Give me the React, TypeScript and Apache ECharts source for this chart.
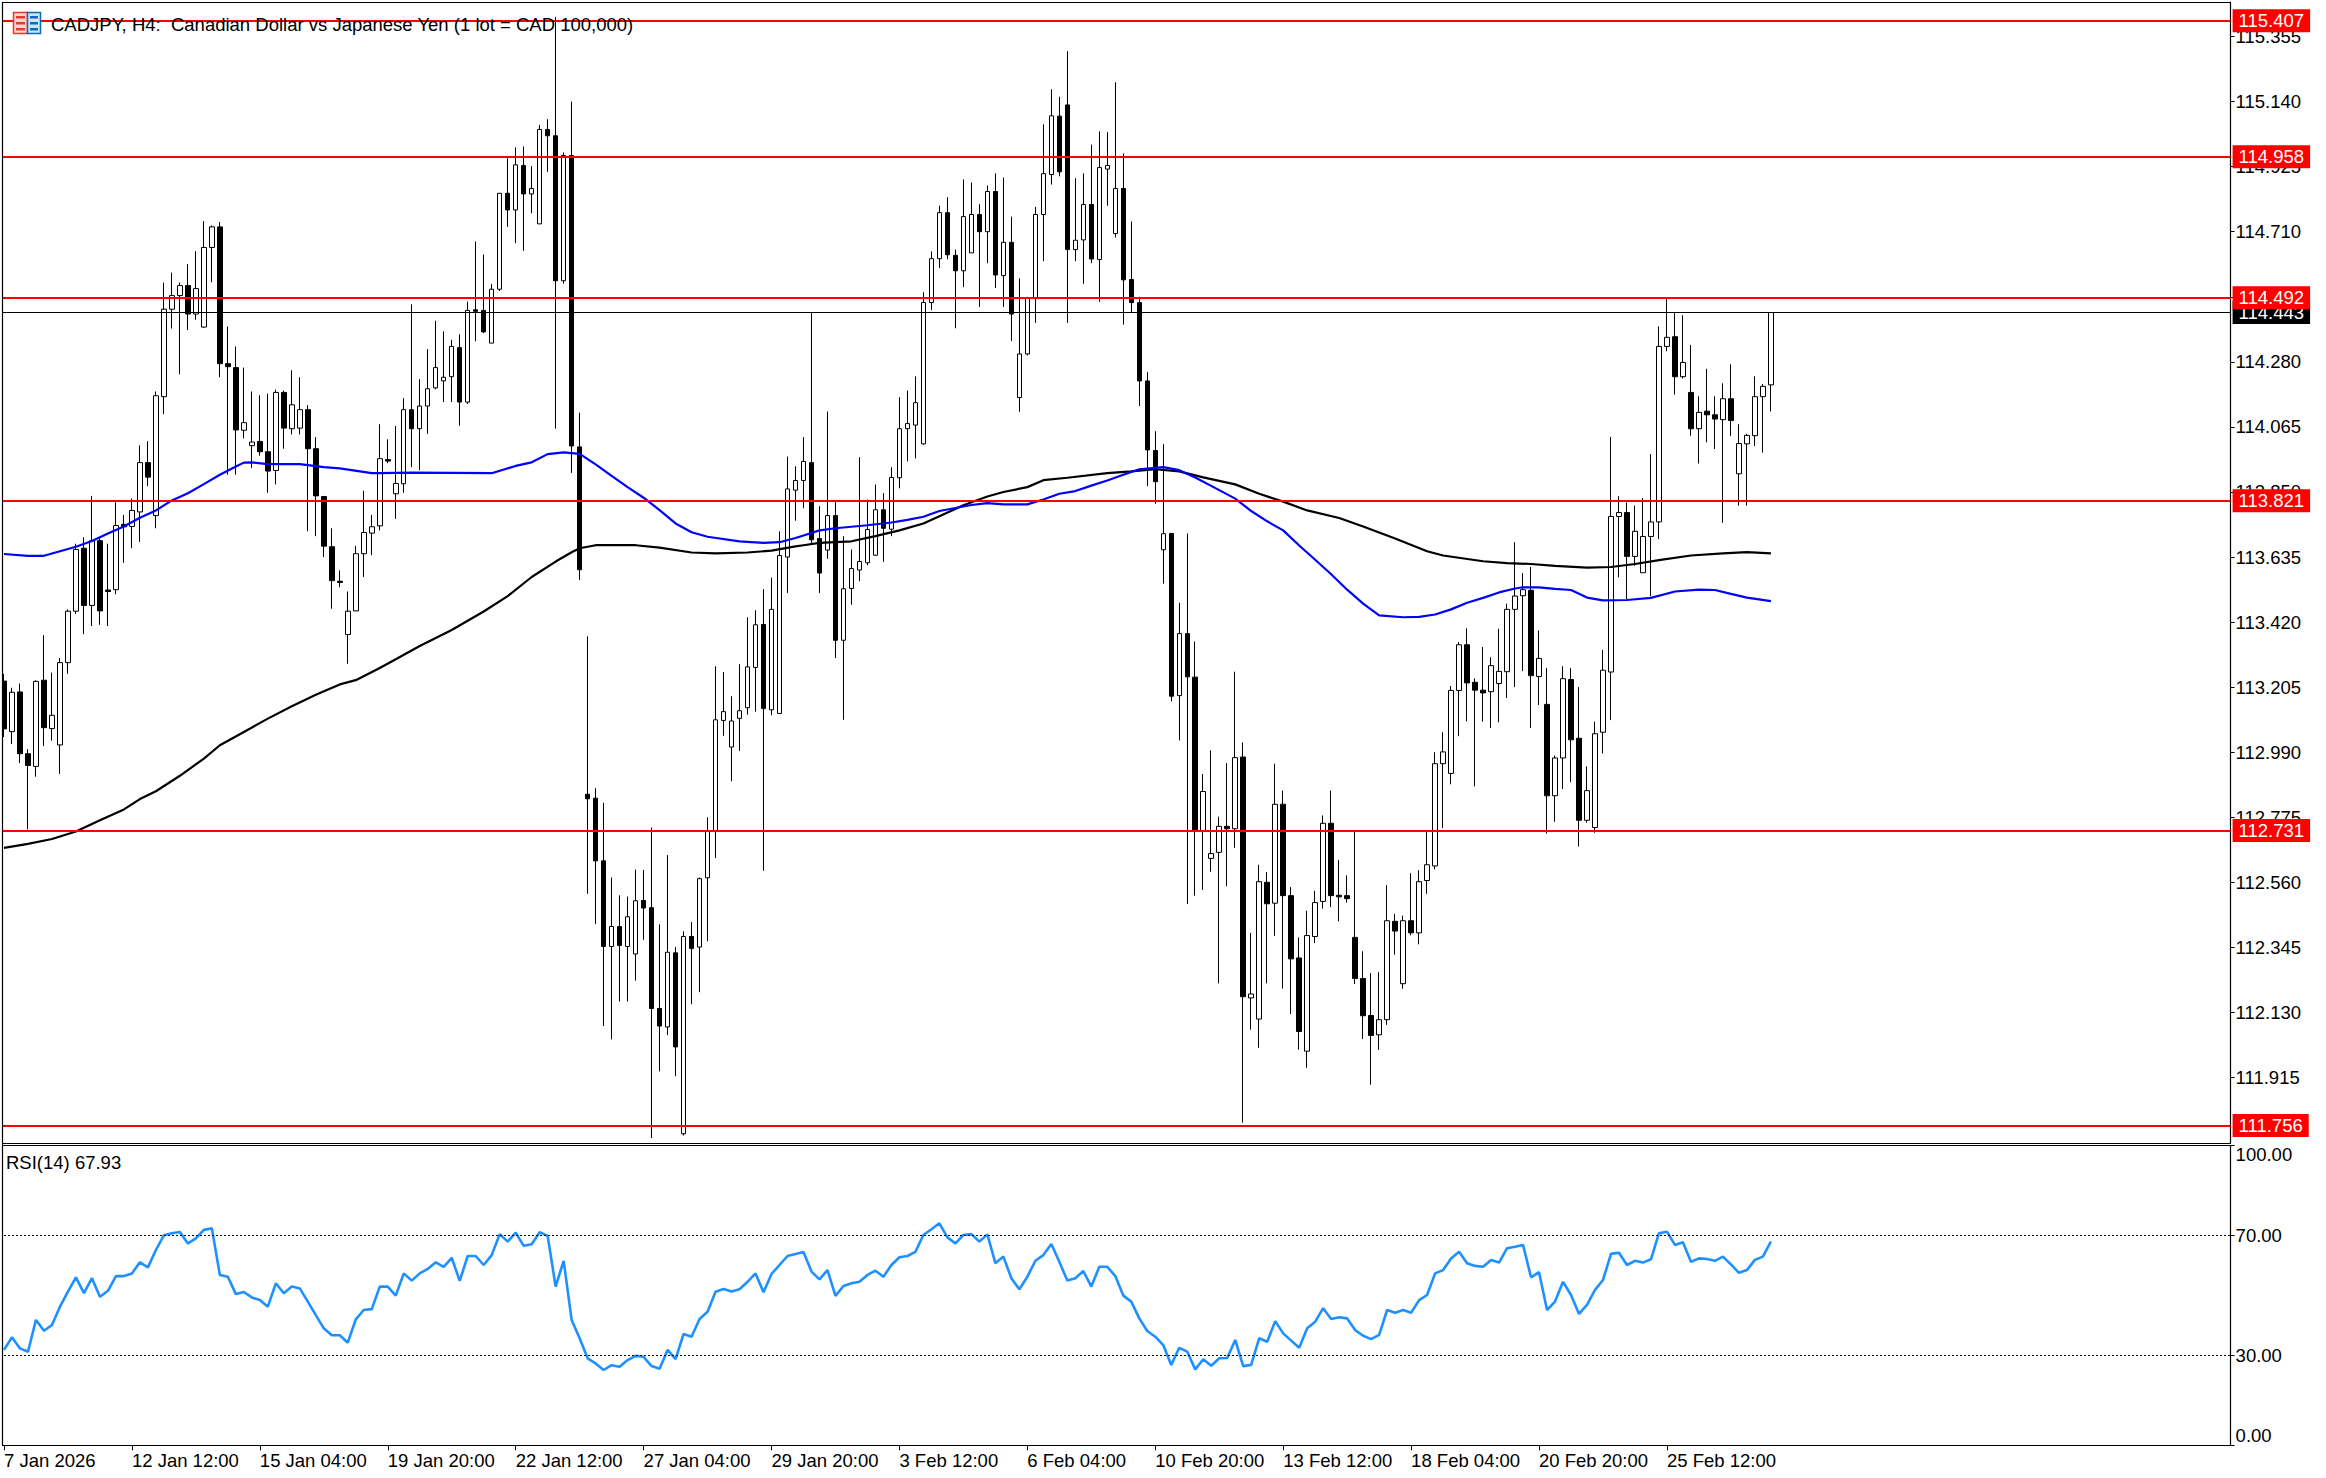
import React, { useEffect, useRef } from "react";
import * as echarts from "echarts";

const tickLabels = ["7 Jan 2026","12 Jan 12:00","15 Jan 04:00","19 Jan 20:00","22 Jan 12:00","27 Jan 04:00","29 Jan 20:00","3 Feb 12:00","6 Feb 04:00","10 Feb 20:00","13 Feb 12:00","18 Feb 04:00","20 Feb 20:00","25 Feb 12:00"];
const priceTicks = [115.355,115.14,114.925,114.71,114.495,114.28,114.065,113.85,113.635,113.42,113.205,112.99,112.775,112.56,112.345,112.13,111.915];
const redLevels = [115.407,114.958,114.492,113.821,112.731,111.756];
const lastPrice = 114.443;
const rsiTicks = [0,30,70,100];
const rsiLevels = [70,30];

const opens = [
113.225,113.058,113.189,112.985,112.943,113.228,113.068,113.014,113.286,113.456,
113.664,113.475,113.689,113.526,113.527,113.743,113.736,113.784,113.947,113.772,
114.165,114.454,114.499,114.532,114.438,114.395,114.658,114.726,114.274,114.261,
114.054,114.003,114.017,113.983,113.921,114.179,114.059,114.061,114.122,113.993,
113.835,113.669,113.555,113.379,113.457,113.646,113.714,113.738,113.957,113.844,
113.877,114.122,114.059,114.134,114.194,114.217,114.231,114.327,114.147,114.452,
114.450,114.342,114.520,114.837,114.782,114.929,114.835,114.736,115.048,115.027,
114.548,114.962,113.999,112.851,112.838,112.631,112.348,112.414,112.348,112.323,
112.500,112.476,112.143,112.082,112.327,111.729,112.381,112.346,112.575,112.728,
113.095,113.007,113.102,113.137,113.270,113.412,113.130,113.118,113.635,113.856,
113.888,113.947,113.696,113.658,113.772,113.360,113.531,113.592,113.616,113.641,
113.791,113.727,113.897,114.059,114.071,114.009,114.476,114.621,114.773,114.632,
114.581,114.640,114.767,114.710,114.843,114.565,114.675,114.162,114.306,114.491,
114.767,114.899,115.092,115.129,114.651,114.683,114.800,114.618,114.917,114.704,
114.853,114.552,114.476,114.217,113.987,113.659,113.713,113.177,113.382,113.238,
112.728,112.639,112.659,112.745,112.737,112.974,112.178,112.108,112.560,112.491,
112.818,112.516,112.310,112.002,112.381,112.497,112.755,112.517,112.516,112.378,
112.242,112.120,112.056,112.106,112.431,112.225,112.433,112.393,112.566,112.614,
112.952,112.920,113.194,113.345,113.221,113.195,113.190,113.217,113.256,113.462,
113.507,113.525,113.240,113.148,112.846,112.971,113.230,113.036,112.765,112.741,
113.056,113.255,113.769,113.782,113.637,113.583,113.703,113.751,114.331,114.363,
114.231,114.179,114.059,114.117,114.105,114.089,114.158,113.910,114.009,114.036,
114.165,114.204];
const closes = [
113.067,113.188,112.985,112.946,113.224,113.071,113.112,113.286,113.456,113.660,
113.475,113.689,113.457,113.521,113.739,113.735,113.789,113.947,113.899,114.168,
114.454,114.499,114.532,114.438,114.522,114.658,114.726,114.274,114.264,114.055,
114.079,114.015,113.983,113.919,114.179,114.061,114.138,114.122,113.993,113.837,
113.671,113.557,113.551,113.456,113.646,113.716,113.735,113.960,113.952,113.878,
114.122,114.059,114.134,114.191,114.261,114.229,114.331,114.147,114.450,114.447,
114.379,114.520,114.837,114.782,114.931,114.835,114.853,115.048,115.027,114.548,
114.962,114.002,113.593,112.836,112.631,112.348,112.414,112.351,112.446,112.499,
112.475,112.143,112.085,112.329,112.016,112.381,112.341,112.572,112.728,113.097,
113.124,113.093,113.127,113.272,113.411,113.134,113.462,113.640,113.860,113.888,
113.951,113.692,113.582,113.772,113.360,113.530,113.597,113.620,113.726,113.791,
113.730,113.898,114.059,114.076,114.145,114.476,114.621,114.773,114.634,114.581,
114.760,114.767,114.710,114.843,114.567,114.675,114.438,114.306,114.491,114.767,
114.902,115.093,114.908,114.651,114.682,114.800,114.620,114.922,114.929,114.853,
114.551,114.476,114.217,113.989,113.884,113.712,113.175,113.382,113.239,112.728,
112.860,112.655,112.745,112.737,112.972,112.182,112.191,112.562,112.489,112.818,
112.516,112.307,112.067,112.384,112.493,112.755,112.516,112.512,112.506,112.242,
112.119,112.054,112.106,112.433,112.399,112.433,112.393,112.562,112.618,112.952,
112.991,113.194,113.345,113.219,113.195,113.186,113.276,113.257,113.462,113.506,
113.527,113.243,113.300,112.846,112.971,113.233,113.031,112.765,112.863,113.051,
113.261,113.769,113.782,113.637,113.720,113.703,113.751,114.331,114.361,114.231,
114.278,114.059,114.113,114.105,114.091,114.158,114.086,114.010,114.037,114.165,
114.199,114.443];
const lows = [
113.040,113.017,112.954,112.735,112.909,113.010,113.028,112.918,113.249,113.447,
113.380,113.407,113.411,113.407,113.512,113.616,113.664,113.685,113.869,113.730,
114.107,114.390,114.239,114.385,114.419,114.392,114.543,114.229,113.907,113.907,
114.027,113.929,113.970,113.847,113.875,113.993,114.040,114.040,113.720,113.704,
113.635,113.464,113.535,113.282,113.456,113.569,113.641,113.723,113.945,113.761,
113.847,113.932,113.922,114.042,114.189,114.147,114.147,114.069,114.141,114.348,
114.375,114.342,114.514,114.726,114.672,114.647,114.771,114.736,114.908,114.059,
114.538,113.913,113.559,112.522,112.422,112.085,112.041,112.166,112.166,112.235,
112.370,111.715,111.935,112.055,111.919,111.723,112.157,112.197,112.365,112.640,
113.044,112.894,112.994,113.114,113.124,112.598,113.112,113.117,113.516,113.755,
113.796,113.679,113.516,113.629,113.301,113.097,113.477,113.555,113.608,113.639,
113.619,113.704,113.862,113.951,113.961,114.006,114.451,114.590,114.619,114.391,
114.527,114.640,114.461,114.606,114.524,114.461,114.349,114.115,114.301,114.409,
114.613,114.866,114.893,114.409,114.613,114.538,114.606,114.478,114.796,114.691,
114.403,114.444,114.134,113.869,113.811,113.547,113.158,113.029,112.488,112.516,
112.535,112.595,112.226,112.547,112.674,111.766,112.073,112.013,112.226,112.383,
112.209,112.125,112.007,111.947,112.359,112.473,112.478,112.431,112.493,112.224,
112.042,111.891,112.006,112.089,112.321,112.208,112.385,112.355,112.522,112.603,
112.739,112.884,113.043,113.092,112.877,113.091,113.070,113.089,113.169,113.205,
113.258,113.070,113.146,112.721,112.760,112.868,112.891,112.678,112.757,112.724,
112.986,113.096,113.568,113.496,113.606,113.583,113.505,113.694,114.315,114.172,
114.225,114.036,113.944,114.014,113.992,113.748,114.035,113.805,113.805,114.002,
113.980,114.116];
const highs = [
113.249,113.203,113.217,113.000,113.228,113.377,113.253,113.301,113.462,113.679,
113.700,113.837,113.698,113.679,113.816,113.774,113.828,114.004,114.018,114.182,
114.542,114.575,114.542,114.603,114.646,114.745,114.731,114.742,114.397,114.331,
114.261,114.182,114.170,114.175,114.188,114.185,114.252,114.229,114.137,114.031,
113.837,113.730,113.591,113.521,113.672,113.854,113.774,114.074,114.024,114.068,
114.160,114.470,114.223,114.322,114.416,114.381,114.353,114.371,114.479,114.678,
114.635,114.537,114.837,114.953,114.989,114.992,114.927,115.063,115.082,115.420,
114.972,115.140,114.112,113.373,112.871,112.823,112.576,112.517,112.513,112.602,
112.601,112.741,112.421,112.650,112.346,112.398,112.429,112.576,112.775,113.274,
113.255,113.175,113.281,113.436,113.459,113.529,113.567,113.720,113.967,113.935,
114.031,114.443,113.803,114.116,113.818,113.704,113.660,113.965,113.825,113.875,
113.846,113.932,114.163,114.185,114.232,114.510,114.645,114.796,114.824,114.651,
114.883,114.873,114.801,114.863,114.903,114.889,114.760,114.556,114.495,114.792,
115.065,115.181,115.156,115.307,114.887,114.903,114.998,115.042,115.039,115.204,
114.969,114.744,114.495,114.246,114.051,114.008,113.713,113.484,113.713,113.356,
112.918,112.996,112.777,112.954,113.256,113.022,112.393,112.618,112.594,112.952,
112.863,112.544,112.378,112.466,112.532,112.781,112.863,112.634,112.583,112.728,
112.332,112.260,112.263,112.551,112.456,112.450,112.590,112.600,112.728,112.990,
113.056,113.209,113.354,113.399,113.234,113.338,113.304,113.398,113.481,113.684,
113.582,113.602,113.392,113.268,112.979,113.274,113.268,113.205,112.943,113.091,
113.328,114.032,113.836,113.815,113.805,113.830,113.975,114.397,114.489,114.441,
114.434,114.336,114.166,114.257,114.166,114.209,114.272,114.074,114.042,114.232,
114.207,114.443];

const blueMa: [number, number][] = [
[0,113.645],[3,113.639],[5,113.639],[7,113.654],[9,113.669],[11,113.688],[13,113.713],[15,113.736],[17,113.765],[19,113.789],
[21,113.822],[23,113.846],[25,113.876],[27,113.907],[29,113.934],[30,113.947],[31,113.948],[33,113.942],[37,113.942],[40,113.932],
[42,113.928],[46,113.912],[47,113.912],[51,113.914],[56,113.913],[61,113.912],[64,113.936],[66,113.948],[68,113.975],[70,113.981],
[72,113.976],[74,113.941],[76,113.903],[78,113.866],[80,113.831],[82,113.790],[84,113.746],[86,113.717],[88,113.702],[92,113.687],
[95,113.682],[97,113.684],[99,113.698],[100,113.706],[102,113.723],[104,113.730],[108,113.740],[111,113.749],[113,113.758],[115,113.768],
[117,113.787],[119,113.797],[121,113.807],[123,113.813],[125,113.809],[128,113.809],[130,113.825],[132,113.844],[134,113.853],[136,113.871],
[138,113.888],[140,113.907],[142,113.925],[145,113.932],[147,113.922],[149,113.898],[152,113.856],[154,113.828],[156,113.787],[158,113.753],
[160,113.723],[162,113.673],[164,113.626],[166,113.578],[168,113.527],[170,113.481],[172,113.442],[175,113.436],[177,113.437],[179,113.445],
[181,113.462],[183,113.484],[185,113.500],[187,113.518],[189,113.531],[190,113.535],[192,113.535],[194,113.530],[196,113.526],[198,113.501],
[200,113.492],[203,113.493],[206,113.500],[209,113.521],[212,113.527],[214,113.526],[216,113.513],[218,113.501],[221,113.489]];
const blackMa: [number, number][] = [
[0,112.674],[3,112.687],[6,112.703],[9,112.728],[12,112.765],[15,112.801],[17,112.835],[19,112.861],[22,112.912],[25,112.969],
[27,113.013],[30,113.057],[33,113.101],[36,113.142],[39,113.180],[42,113.214],[44,113.228],[47,113.268],[49,113.297],[52,113.341],
[56,113.394],[60,113.455],[63,113.506],[66,113.569],[69,113.620],[71,113.651],[72,113.664],[74,113.674],[79,113.674],[82,113.666],
[86,113.650],[89,113.647],[93,113.650],[96,113.656],[99,113.670],[100,113.674],[102,113.682],[106,113.687],[109,113.704],[112,113.723],
[115,113.746],[117,113.770],[120,113.806],[123,113.835],[125,113.850],[128,113.866],[130,113.889],[133,113.897],[138,113.912],[141,113.918],
[144,113.925],[147,113.918],[150,113.898],[154,113.875],[157,113.844],[160,113.818],[163,113.789],[167,113.764],[170,113.736],[174,113.696],
[178,113.654],[180,113.640],[185,113.621],[188,113.615],[191,113.612],[194,113.606],[198,113.600],[201,113.602],[204,113.612],[207,113.625],
[211,113.640],[215,113.647],[218,113.651],[221,113.647]];

const rsiValues = [
31.8,36.0,32.3,31.2,41.8,38.2,40.1,46.2,51.2,56.0,
50.7,55.7,49.5,51.5,56.4,56.4,57.3,61.0,59.3,65.1,
70.0,70.7,71.1,67.3,69.0,71.8,72.3,56.8,56.2,50.4,
51.1,49.3,48.4,46.2,54.0,50.7,52.9,52.3,47.9,43.4,
39.0,36.7,36.7,34.2,42.0,45.1,45.4,52.9,52.9,49.9,
57.3,54.9,57.3,58.8,61.0,59.5,62.5,54.8,63.1,63.1,
60.1,63.4,70.4,67.9,70.9,66.5,67.0,71.0,69.8,52.9,
61.5,41.8,35.7,29.0,27.3,25.1,26.7,26.2,28.4,29.8,
29.5,26.4,25.5,31.8,28.7,37.1,36.2,42.1,44.5,51.2,
52.1,51.3,52.0,54.5,57.3,51.0,57.1,60.1,63.1,63.8,
64.4,57.9,55.3,58.4,49.8,53.1,54.0,54.5,56.8,58.2,
56.2,60.1,62.7,63.1,64.5,70.1,72.0,74.0,69.3,67.3,
70.1,70.4,67.9,70.3,60.7,62.9,55.7,52.0,56.2,61.5,
63.4,67.1,61.2,54.9,55.7,58.1,52.9,59.5,59.5,56.4,
49.9,47.9,42.3,38.1,36.2,33.4,26.8,32.5,31.2,25.3,
28.7,26.5,29.0,29.1,35.1,26.4,26.8,35.7,34.5,41.4,
37.3,34.9,32.5,39.0,41.2,45.7,42.1,42.7,42.3,38.4,
36.5,35.4,36.8,45.1,44.2,45.1,44.2,48.4,50.1,57.3,
58.4,62.3,64.5,60.7,59.8,59.5,61.8,60.9,65.7,66.2,
66.8,56.0,57.7,45.1,47.9,54.5,50.1,43.8,46.8,51.8,
55.1,63.8,64.2,60.1,61.5,60.9,62.0,70.7,71.2,66.8,
67.7,61.2,62.3,62.1,61.5,62.9,60.3,57.5,58.4,61.8,
62.9,67.93];

const SLOTS = 279;
const LAST_TICK = (tickLabels.length - 1) * 16;
const categories = Array.from({ length: SLOTS }, (_, i) =>
  i % 16 === 0 && i <= LAST_TICK ? tickLabels[i / 16] : ""
);
const FONT = "'Liberation Sans', Arial, sans-serif";
const SIZE = 18.5;
const showTick = (i: number) => i % 16 === 0 && i <= LAST_TICK;

function frameLine(x1: number, y1: number, x2: number, y2: number) {
  return { type: "line", z: 100, silent: true, shape: { x1, y1, x2, y2 }, style: { stroke: "#000", lineWidth: 1.2 } };
}
function box(x: number, y: number, width: number, height: number, fill: string, stroke?: string) {
  return { type: "rect", z: 101, silent: true, shape: { x, y, width, height }, style: { fill, stroke: stroke || "none", lineWidth: 1.5 } };
}

export default function App() {
  const ref = useRef<HTMLDivElement>(null);
  useEffect(() => {
    document.body.style.margin = "0";
    const chart = echarts.init(ref.current!, undefined, { renderer: "svg" });
    const candle = opens.map((o, i) => [o, closes[i], lows[i], highs[i]]);
    chart.setOption({
      animation: false,
      backgroundColor: "#ffffff",
      grid: [
        { left: -1.4, top: 2, width: 2232, height: 1141 },
        { left: -1.4, top: 1145.3, width: 2232, height: 300 },
      ],
      xAxis: [
        { type: "category", gridIndex: 0, data: categories, show: false, boundaryGap: true },
        {
          type: "category", gridIndex: 1, data: categories, boundaryGap: true,
          axisLine: { show: true, lineStyle: { color: "#000", width: 1.2 } },
          axisTick: { show: true, alignWithLabel: true, interval: showTick, length: 5, lineStyle: { color: "#000" } },
          axisLabel: { interval: showTick, align: "left", margin: 6, color: "#000", fontFamily: FONT, fontSize: SIZE, hideOverlap: false },
          splitLine: { show: false },
        },
      ],
      yAxis: [
        {
          type: "value", gridIndex: 0, position: "right", min: 111.6985, max: 115.4692, scale: true,
          axisLine: { show: true, lineStyle: { color: "#000", width: 1.2 } },
          axisTick: { show: true, length: 4, customValues: priceTicks, lineStyle: { color: "#000" } },
          axisLabel: { customValues: priceTicks, margin: 5, color: "#000", fontFamily: FONT, fontSize: SIZE, padding: [2, 0, 0, 0], formatter: (v: number) => v.toFixed(3) },
          splitLine: { show: false },
        },
        {
          type: "value", gridIndex: 1, position: "right", min: 0, max: 100,
          axisLine: { show: true, lineStyle: { color: "#000", width: 1.2 } },
          axisTick: { show: true, length: 4, customValues: rsiTicks, lineStyle: { color: "#000" } },
          axisLabel: {
            customValues: rsiTicks, margin: 5, color: "#000", fontFamily: FONT, fontSize: SIZE,
            verticalAlignMinLabel: "bottom", verticalAlignMaxLabel: "top",
            formatter: (v: number) => v.toFixed(2),
          },
          splitLine: { show: false },
        },
      ],
      series: [
        {
          type: "candlestick", name: "CADJPY", xAxisIndex: 0, yAxisIndex: 0, data: candle, barWidth: 5,
          itemStyle: { color: "#ffffff", color0: "#000000", borderColor: "#000000", borderColor0: "#000000", borderWidth: 1 },
        },
        {
          type: "line", name: "MA slow", xAxisIndex: 0, yAxisIndex: 0, data: blackMa, showSymbol: false, symbol: "none",
          lineStyle: { color: "#000000", width: 2.2 }, silent: true,
          markLine: {
            silent: true, symbol: "none", z: 4, animation: false, precision: 3,
            lineStyle: { color: "#000000", width: 1, type: "solid" },
            label: {
              show: true, position: "end", distance: 2, color: "#fff", backgroundColor: "#000",
              fontFamily: FONT, fontSize: SIZE, lineHeight: 18, padding: [3, 6, 2, 6],
              formatter: (p: any) => Number(p.value).toFixed(3),
            },
            data: [{ yAxis: lastPrice }],
          },
        },
        {
          type: "line", name: "MA fast", xAxisIndex: 0, yAxisIndex: 0, data: blueMa, showSymbol: false, symbol: "none",
          lineStyle: { color: "#0000ff", width: 2.2 }, silent: true,
          markLine: {
            silent: true, symbol: "none", z: 6, animation: false, precision: 3,
            lineStyle: { color: "#ff0000", width: 2, type: "solid" },
            label: {
              show: true, position: "end", distance: 2, color: "#fff", backgroundColor: "#ff0000",
              fontFamily: FONT, fontSize: SIZE, lineHeight: 18, padding: [3, 6, 2, 6],
              formatter: (p: any) => Number(p.value).toFixed(3),
            },
            data: redLevels.map((v) => ({ yAxis: v })),
          },
        },
        {
          type: "line", name: "RSI(14)", xAxisIndex: 1, yAxisIndex: 1, data: rsiValues, showSymbol: false, symbol: "none",
          lineStyle: { color: "#1e90ff", width: 2.6 }, silent: true,
          markLine: {
            silent: true, symbol: "none", animation: false,
            lineStyle: { color: "#000000", width: 1.2, type: [2, 2] },
            label: { show: false },
            data: rsiLevels.map((v) => ({ yAxis: v })),
          },
        },
      ],
      graphic: {
        elements: [
          { type: "rect", z: 99, silent: true, shape: { x: 0, y: 0, width: 2, height: 1478 }, style: { fill: "#fff" } },
          frameLine(2, 2.5, 2231, 2.5),
          frameLine(2.5, 2, 2.5, 1445),
          frameLine(2, 1143.5, 2231, 1143.5),
          frameLine(2, 1145.5, 2231, 1145.5),
          box(13.5, 12.5, 14, 21, "#fbd5cc", "#e53935"),
          box(27.5, 12.5, 13, 21, "#cfe4f5", "#0a6cb5"),
          box(16, 16, 9, 2.5, "#e53935"),
          box(16, 22, 9, 2.5, "#e53935"),
          box(16, 28, 9, 2.5, "#e53935"),
          box(30, 16, 8, 2.5, "#0a6cb5"),
          box(30, 22, 8, 2.5, "#0a6cb5"),
          box(30, 28, 8, 2.5, "#0a6cb5"),
          {
            type: "text", z: 102, silent: true,
            style: { x: 51, y: 24, text: "CADJPY, H4:  Canadian Dollar vs Japanese Yen (1 lot = CAD 100,000)", font: `18.5px ${FONT}`, fill: "#000", verticalAlign: "middle" },
          },
          {
            type: "text", z: 102, silent: true,
            style: { x: 6, y: 1162, text: "RSI(14) 67.93", font: `18.5px ${FONT}`, fill: "#000", verticalAlign: "middle" },
          },
        ],
      },
    });
    return () => chart.dispose();
  }, []);
  return <div ref={ref} style={{ position: "absolute", left: 0, top: 0, width: 2326, height: 1478 }} />;
}
